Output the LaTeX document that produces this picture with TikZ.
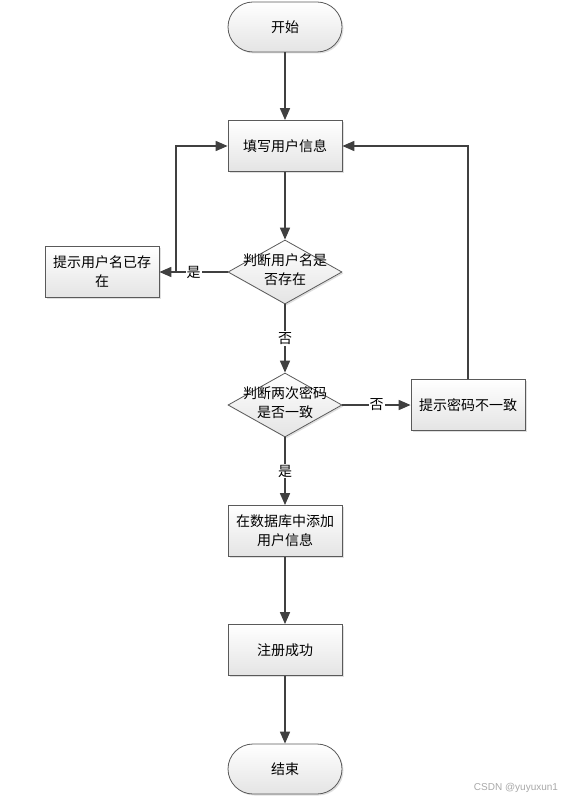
\documentclass[tikz,border=0pt]{standalone}
\usepackage{fontspec}
\setmainfont{Noto Sans CJK SC}
\newfontfamily\wmfont{Liberation Sans}
\usetikzlibrary{arrows.meta, positioning, shapes.geometric, shadows}
\definecolor{cline}{HTML}{404040}
\definecolor{cborder}{HTML}{5A5A5A}
\definecolor{cfill}{HTML}{E4E4E4}
\definecolor{cmark}{HTML}{A8A8A8}
\tikzset{
  every picture/.style={font=\fontsize{14}{19}\selectfont, line width=0.8pt},
  box/.style={draw=cborder, top color=white, bottom color=cfill, minimum width=114pt, minimum height=51pt, align=center, inner sep=2pt,
    drop shadow={opacity=0.25, shadow xshift=1.5pt, shadow yshift=-1.5pt}},
  terminal/.style={box, rounded corners=25pt, minimum height=50pt},
  decision/.style={diamond, draw=cborder, top color=white, bottom color=cfill, minimum width=114pt, minimum height=64pt, inner sep=0pt,
    drop shadow={opacity=0.25, shadow xshift=1.5pt, shadow yshift=-1.5pt}},
  arrow/.style={-{Triangle[length=12pt, width=10pt]}, draw=cline, line width=1.7pt},
  flag/.style={fill=white, inner sep=1pt},
}

\begin{document}
\begin{tikzpicture}[x=1pt, y=-1pt]
  \useasboundingbox (0,0) rectangle (562,799);
  \node[terminal] (start) at (285,27) {开始};
  \node[box] (fill) at (285,146) {填写用户信息};
  \node[decision] (d1) at (285,272) {};
  \node[align=center] (d1t) at (285,270) {判断用户名是\\否存在};
  \node[box] (tip1) at (102,272) {提示用户名已存\\在};
  \node[decision] (d2) at (285,405) {};
  \node[align=center] (d2t) at (285,403) {判断两次密码\\是否一致};
  \node[box] (tip2) at (468,405) {提示密码不一致};
  \node[box] (add) at (285,531) {在数据库中添加\\用户信息};
  \node[box] (ok) at (285,650) {注册成功};
  \node[terminal] (stop) at (285,769) {结束};
  \coordinate (j1) at (176,272);
  \draw[arrow] (start) -- (fill);
  \draw[arrow] (fill) -- (d1);
  \draw[arrow] (d1) -- node[flag] (yes1) {是} (tip1);
  \draw[arrow] (j1) |- (fill);
  \draw[arrow] (d1) -- node[flag] (no1) {否} (d2);
  \draw[arrow] (d2) -- node[flag] (no2) {否} (tip2);
  \draw[arrow] (tip2) |- (fill);
  \draw[arrow] (d2) -- node[flag] (yes2) {是} (add);
  \draw[arrow] (add) -- (ok);
  \draw[arrow] (ok) -- (stop);
  \node[font=\wmfont\fontsize{10}{11}\selectfont, text=cmark] (wm) at (516,788) {CSDN @yuyuxun1};
\end{tikzpicture}
\end{document}
